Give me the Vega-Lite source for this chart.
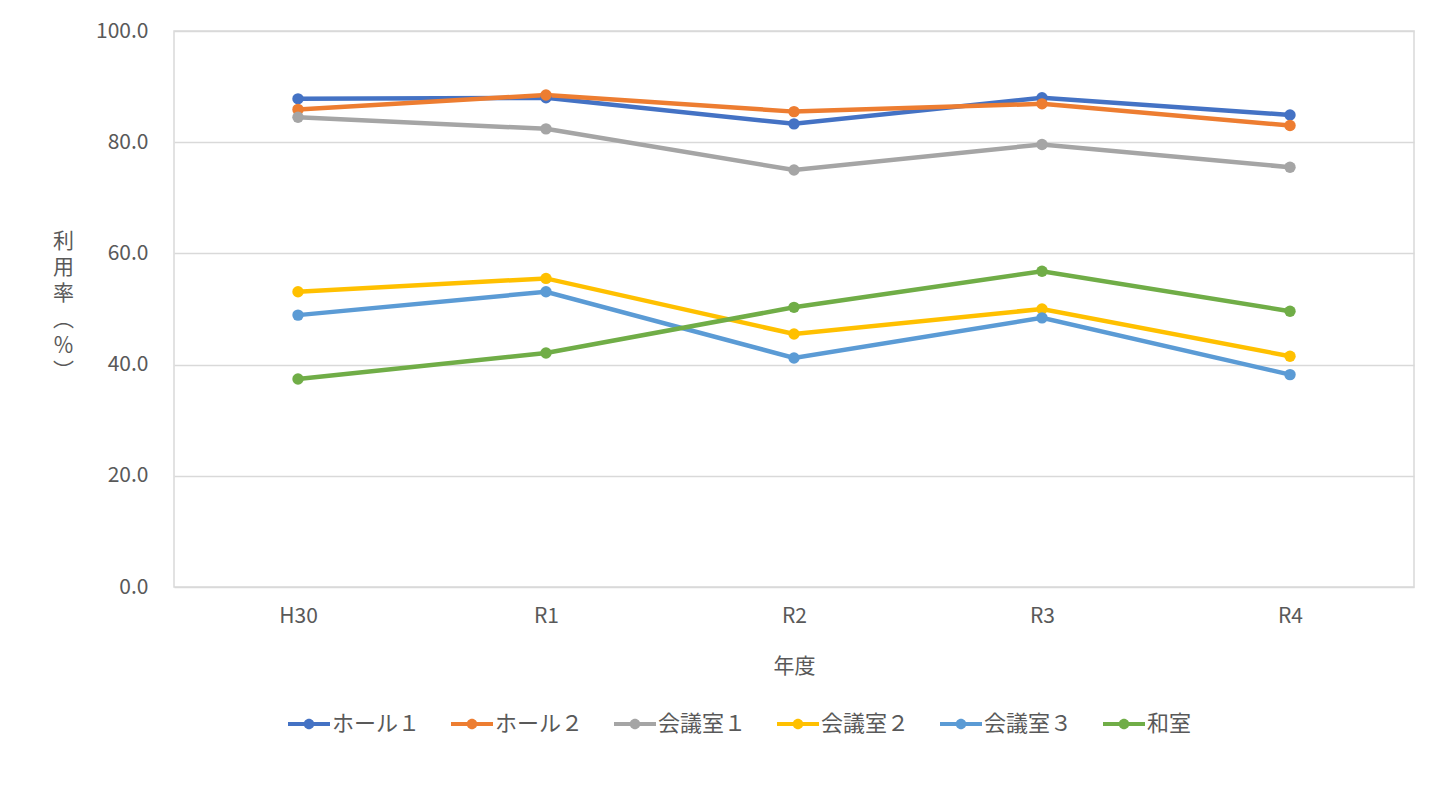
{
  "$schema": "https://vega.github.io/schema/vega-lite/v6.json",
  "width": 1240,
  "height": 556,
  "autosize": {"type": "none"},
  "padding": {"left": 174, "top": 31, "right": 29, "bottom": 208},
  "background": "white",
  "config": {
    "font": "Noto Sans CJK JP",
    "view": {"stroke": "#d9d9d9", "strokeWidth": 1.5},
    "axis": {
      "labelColor": "#595959",
      "titleColor": "#595959",
      "labelFont": "Noto Sans CJK JP",
      "titleFont": "Noto Sans CJK JP",
      "labelFontSize": 21,
      "titleFontSize": 21,
      "titleFontWeight": "normal",
      "domain": false,
      "ticks": false
    },
    "legend": {
      "labelColor": "#595959",
      "labelFont": "Noto Sans CJK JP",
      "labelFontSize": 22
    }
  },
  "data": {
    "values": [
      {"year": "H30", "room": "ホール１", "rate": 87.8},
      {"year": "R1", "room": "ホール１", "rate": 88.0},
      {"year": "R2", "room": "ホール１", "rate": 83.3},
      {"year": "R3", "room": "ホール１", "rate": 88.0},
      {"year": "R4", "room": "ホール１", "rate": 84.9},
      {"year": "H30", "room": "ホール２", "rate": 85.9},
      {"year": "R1", "room": "ホール２", "rate": 88.5},
      {"year": "R2", "room": "ホール２", "rate": 85.5},
      {"year": "R3", "room": "ホール２", "rate": 86.9},
      {"year": "R4", "room": "ホール２", "rate": 83.0},
      {"year": "H30", "room": "会議室１", "rate": 84.5},
      {"year": "R1", "room": "会議室１", "rate": 82.4},
      {"year": "R2", "room": "会議室１", "rate": 75.0},
      {"year": "R3", "room": "会議室１", "rate": 79.6},
      {"year": "R4", "room": "会議室１", "rate": 75.5},
      {"year": "H30", "room": "会議室２", "rate": 53.1},
      {"year": "R1", "room": "会議室２", "rate": 55.5},
      {"year": "R2", "room": "会議室２", "rate": 45.5},
      {"year": "R3", "room": "会議室２", "rate": 50.0},
      {"year": "R4", "room": "会議室２", "rate": 41.5},
      {"year": "H30", "room": "会議室３", "rate": 48.9},
      {"year": "R1", "room": "会議室３", "rate": 53.1},
      {"year": "R2", "room": "会議室３", "rate": 41.2},
      {"year": "R3", "room": "会議室３", "rate": 48.4},
      {"year": "R4", "room": "会議室３", "rate": 38.2},
      {"year": "H30", "room": "和室", "rate": 37.4},
      {"year": "R1", "room": "和室", "rate": 42.1},
      {"year": "R2", "room": "和室", "rate": 50.3},
      {"year": "R3", "room": "和室", "rate": 56.8},
      {"year": "R4", "room": "和室", "rate": 49.6}
    ]
  },
  "mark": {
    "type": "line",
    "strokeWidth": 4.5,
    "point": {"filled": true, "size": 130, "opacity": 1}
  },
  "encoding": {
    "x": {
      "field": "year",
      "type": "ordinal",
      "sort": null,
      "title": "年度",
      "scale": {"type": "point", "padding": 0.5},
      "axis": {"labelAngle": 0, "labelPadding": 18, "titlePadding": 29, "grid": false}
    },
    "y": {
      "field": "rate",
      "type": "quantitative",
      "scale": {"domain": [0, 100], "nice": false},
      "axis": {
        "values": [0, 20, 40, 60, 80, 100],
        "format": ".1f",
        "labelPadding": 26,
        "gridColor": "#d9d9d9",
        "gridWidth": 1.5,
        "title": ["利", "用", "率", "︵", "％", "︶"],
        "titleAngle": 0,
        "titleAlign": "center",
        "titleBaseline": "top",
        "titleLineHeight": 26,
        "titleX": -111,
        "titleY": 199
      }
    },
    "color": {
      "field": "room",
      "type": "nominal",
      "title": null,
      "scale": {
        "domain": ["ホール１", "ホール２", "会議室１", "会議室２", "会議室３", "和室"],
        "range": ["#4472C4", "#ED7D31", "#A5A5A5", "#FFC000", "#5B9BD5", "#70AD47"]
      },
      "legend": {
        "orient": "none",
        "legendX": 114,
        "legendY": 672,
        "direction": "horizontal",
        "columns": 6,
        "symbolType": "M-1,-0.1H1V0.1H-1Z M0.25,0A0.25,0.25 0 1,1 -0.25,0A0.25,0.25 0 1,1 0.25,0Z",
        "symbolSize": 1764,
        "symbolStrokeWidth": 0,
        "labelOffset": 2,
        "columnPadding": 30
      }
    }
  }
}
